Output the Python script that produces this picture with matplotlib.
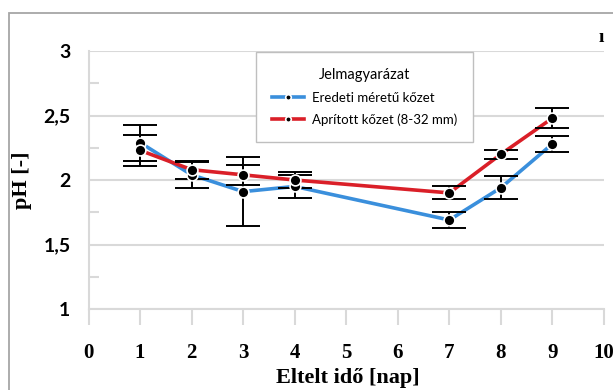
import matplotlib
matplotlib.use("Agg")
import matplotlib.pyplot as plt
from matplotlib.lines import Line2D
from matplotlib.patches import Rectangle

days = [1, 2, 3, 4, 7, 8, 9]
eredeti = [2.29, 2.04, 1.91, 1.95, 1.69, 1.94, 2.28]
eredeti_err = [0.14, 0.10, 0.27, 0.09, 0.06, 0.09, 0.06]
apritott = [2.23, 2.08, 2.04, 2.00, 1.90, 2.20, 2.48]
apritott_err = [0.12, 0.07, 0.075, 0.06, 0.05, 0.035, 0.08]
series_names = ["Eredeti méretű kőzet", "Aprított kőzet (8-32 mm)"]
legend_title = "Jelmagyarázat"
x_ticks = list(range(0, 11))
y_ticks = [1, 1.5, 2, 2.5, 3]
y_tick_labels = ["1", "1,5", "2", "2,5", "3"]
x_label = "Eltelt idő [nap]"
y_label = "pH [-]"

BLUE = "#3A8FDC"
RED = "#DA1F28"
GRID = "#D9D9D9"

W, H = 613, 390
fig = plt.figure(figsize=(W / 100, H / 100), dpi=100)

# outer chart frame
fig.patches.append(Rectangle((9 / W, -0.1), 1.2, (H - 13) / H + 0.1,
                             transform=fig.transFigure, fill=False,
                             edgecolor="#A6A6A6", linewidth=1.3))

X0, X1 = 88.5, 604
ax = fig.add_axes([X0 / W, (H - 309) / H, (X1 - X0) / W, 258 / H])
ax.set_xlim(0, 10)
ax.set_ylim(1, 3)

for sp in ["top", "right"]:
    ax.spines[sp].set_visible(False)
for sp in ["left", "bottom"]:
    ax.spines[sp].set_color(GRID)
    ax.spines[sp].set_linewidth(1.5)

ax.set_yticks(y_ticks)
ax.set_yticklabels(y_tick_labels, fontfamily="Lato", fontweight="bold", fontsize=14)
ax.set_yticks([1.25, 1.75, 2.25, 2.75], minor=True)
ax.tick_params(axis="y", which="major", length=0, pad=13)
ax.tick_params(axis="y", which="minor", direction="in", length=7, width=1.5, color=GRID)

ax.set_xticks(x_ticks)
ax.set_xticklabels([str(t) for t in x_ticks], fontfamily="Liberation Serif",
                   fontweight="bold", fontsize=15)
ax.tick_params(axis="x", which="major", direction="out", length=11.5, width=1.5,
               color=GRID, pad=13)

ax.grid(axis="y", color=GRID, linewidth=1.5, zorder=0)
ax.set_axisbelow(True)

for vals, errs, col in [(eredeti, eredeti_err, BLUE), (apritott, apritott_err, RED)]:
    ax.plot(days, vals, color=col, linewidth=2.6, zorder=2, solid_capstyle="butt")
    ax.errorbar(days, vals, yerr=errs, fmt="none", ecolor="black", elinewidth=1.4,
                capsize=12, capthick=1.4, zorder=3)
for vals, col in [(eredeti, BLUE), (apritott, RED)]:
    ax.plot(days, vals, linestyle="none", marker="o", markersize=7.8,
            markerfacecolor="black", markeredgecolor="white", markeredgewidth=1.2,
            zorder=4, clip_on=False)

handles = [Line2D([], [], color=BLUE, linewidth=2.6, marker="o", markersize=4,
                  markerfacecolor="black", markeredgecolor="white", markeredgewidth=1.2),
           Line2D([], [], color=RED, linewidth=2.6, marker="o", markersize=4,
                  markerfacecolor="black", markeredgecolor="white", markeredgewidth=1.2)]
lx0 = (256 - X0) / (X1 - X0)
lx1 = (473 - X0) / (X1 - X0)
ly1 = (309 - 52) / 258
leg = ax.legend(handles, series_names, title=legend_title,
                loc="upper left", bbox_to_anchor=(lx0, ly1 - 0.3, lx1 - lx0, 0.3),
                mode="expand",
                prop={"family": ["Lato", "DejaVu Sans"], "size": 9.5},
                title_fontproperties={"family": ["Lato", "DejaVu Sans"], "size": 10.5},
                frameon=True, fancybox=False, framealpha=1, edgecolor="#BFBFBF",
                handlelength=2.4, handletextpad=0.6, borderpad=1.25, labelspacing=0.7,
                borderaxespad=0)
leg.get_frame().set_linewidth(1.0)
leg.set_zorder(5)

fig.text(348 / W, 1 - 378 / H, x_label, ha="center", va="center",
         fontfamily="Liberation Serif", fontweight="bold", fontsize=16)
fig.text(22 / W, 1 - 180 / H, y_label, ha="center", va="center", rotation=90,
         fontfamily="Liberation Serif", fontweight="bold", fontsize=16)
fig.text(601 / W, 1 - 37 / H, "ı", ha="center", va="center",
         fontfamily="Liberation Serif", fontweight="bold", fontsize=14)

fig.savefig("out.png", dpi=100)
